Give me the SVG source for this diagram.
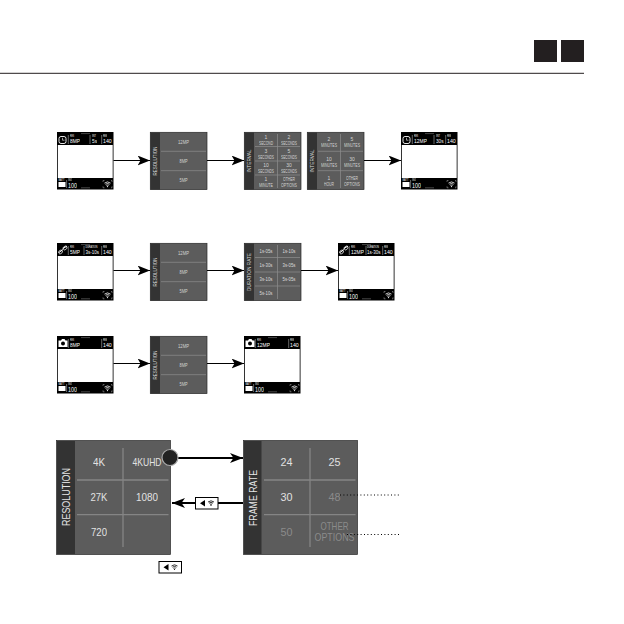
<svg xmlns="http://www.w3.org/2000/svg" width="624" height="624" viewBox="0 0 624 624">
<style>
text{font-family:"Liberation Sans",Arial,sans-serif;opacity:.99}
.m{fill:#5c5c5c;stroke:#2a2a2a;stroke-width:.7}
.s{fill:#333}
.g{stroke:#8e8e8e;stroke-width:.7;fill:none}
.gb{stroke:#858585;stroke-width:1.3;fill:none}
.t{fill:#d4d4d4;text-anchor:middle;font-size:5.2px}
.c{fill:#d4d4d4;text-anchor:middle;font-size:5px}
.d{fill:#dcdcdc;text-anchor:middle;font-size:5.6px}
.v{fill:#dcdcdc;text-anchor:middle;font-size:5.2px}
.vb{fill:#e4e4e4;text-anchor:middle;font-size:11.5px}
.vd{fill:#8c8c8c;text-anchor:middle;font-size:11.5px}
.bs{fill:#e8e8e8;text-anchor:middle;font-size:11.3px}
.l{fill:#fff;font-size:2.6px}
.n{fill:#fff;font-size:6.2px}
.n3{fill:#fff;font-size:5.2px}
.n2{fill:#fff;font-size:7.2px}
.a{stroke:#000;stroke-width:1.1;fill:none;marker-end:url(#h)}
.ab{stroke:#000;stroke-width:2;fill:none;marker-end:url(#hb)}
.dot{stroke:#000;stroke-width:1;stroke-dasharray:1 2.4;fill:none}
</style>
<defs>
<marker id="h" markerUnits="userSpaceOnUse" markerWidth="14" markerHeight="11" refX="12.500" refY="5" orient="auto"><path d="M0,0L12.500,5L0,10L3,5z"/></marker>
<marker id="hb" markerUnits="userSpaceOnUse" markerWidth="14" markerHeight="11" refX="13" refY="5" orient="auto"><path d="M0,0L13,5L0,10L3.500,5z"/></marker>
<g id="wifi"><path d="M0,1.800Q3,-.6 6,1.800M1,3Q3,1.400 5,3M2,4.200Q3,3.400 4,4.200" fill="none" stroke="currentColor" stroke-width=".8"/><circle cx="3" cy="5.300" r=".6" fill="currentColor"/></g>
<g id="key"><rect x=".5" y=".5" width="22.500" height="11.500" fill="#fff" stroke="#000"/><path d="M5,6.300L10,3V9.600z"/><use href="#wifi" x="13" y="3.200" color="#000"/></g>
<g id="screen">
<rect width="56.500" height="57.500" fill="#000"/>
<path d="M11.300,3V12" stroke="#fff" stroke-width=".4"/>
<rect x=".8" y="13" width="54.900" height="33" fill="#fff"/>
<rect x="1.500" y="50" width="7" height="5" fill="#fff"/>
<path d="M9.600,48V56" stroke="#fff" stroke-width=".4"/>
<path d="M24,1.600H33M24,55.800H33" stroke="#777" stroke-width=".6"/>
<path d="M47.500,48.500h-1.500v1.500M54,48.500h1v1.500M47.500,55.800h-1.500v-1.500M54,55.800h1v-1.500" stroke="#fff" stroke-width=".35" fill="none"/>
<use href="#wifi" x="47.500" y="49.300" color="#fff"/>
<text class="l" x="1.500" y="49" textLength="6" lengthAdjust="spacingAndGlyphs">BATT</text><text class="l" x="11" y="49" textLength="4" lengthAdjust="spacingAndGlyphs">ISO</text>
<text class="n2" x="11" y="55.500" textLength="9" lengthAdjust="spacingAndGlyphs">100</text>
</g>
<g id="clock"><rect x="2" y="4.500" width="7" height="7" rx="2" fill="none" stroke="#fff" stroke-width=".9"/><path d="M5.500,5.800V8.200H7.500" fill="none" stroke="#fff" stroke-width=".6"/></g>
<g id="link"><path d="M2,9.500L6,6.500M6,5.500L10,3" stroke="#fff" stroke-width="1" fill="none"/><rect x="1.500" y="7.500" width="4" height="3" rx="1.200" fill="none" stroke="#fff" stroke-width=".7" transform="rotate(-35 3.500 9)"/><rect x="6" y="3.500" width="4" height="3" rx="1.200" fill="none" stroke="#fff" stroke-width=".7" transform="rotate(-35 8 5)"/></g>
<g id="camera"><path d="M1.500,4.500H4L5,3H7.500L8.500,4.500H10.500V11H1.500z" fill="#fff"/><circle cx="6" cy="7.600" r="2" fill="#000"/></g>
<g id="res">
<rect class="m" x=".3" y=".3" width="56.700" height="57.300"/>
<rect class="s" x=".5" y=".5" width="9.500" height="57"/>
<path class="g" d="M11,19.300H56M11,38.700H56"/>
<text class="t" x="33.500" y="11.500" textLength="11" lengthAdjust="spacingAndGlyphs">12MP</text><text class="t" x="33.500" y="30.500" textLength="8" lengthAdjust="spacingAndGlyphs">8MP</text><text class="t" x="33.500" y="49.500" textLength="8" lengthAdjust="spacingAndGlyphs">5MP</text>
<text class="d" transform="translate(7 29) rotate(-90)" textLength="29" lengthAdjust="spacingAndGlyphs">RESOLUTION</text>
</g>
</defs>

<g id="header">
<rect x="534" y="40" width="23" height="22" fill="#231f20"/>
<rect x="561" y="40" width="23" height="22" fill="#231f20"/>
<path d="M0,73.300H584" stroke="#231f20" stroke-width="1"/>
</g>

<g id="s1" transform="translate(57 132)"><use href="#screen"/><use href="#clock"/>
<text class="l" x="13" y="5" textLength="4" lengthAdjust="spacingAndGlyphs">RES</text><text class="n" x="13" y="11" textLength="10" lengthAdjust="spacingAndGlyphs">8MP</text>
<path d="M33,3V12M44.700,3V12" stroke="#fff" stroke-width=".4"/>
<text class="l" x="35" y="5" textLength="4" lengthAdjust="spacingAndGlyphs">INT</text><text class="n" x="35" y="11" textLength="5" lengthAdjust="spacingAndGlyphs">5s</text>
<text class="l" x="46" y="5" textLength="4" lengthAdjust="spacingAndGlyphs">REM</text><text class="n" x="46" y="11" textLength="8.700" lengthAdjust="spacingAndGlyphs">140</text></g>
<use id="m1" href="#res" transform="translate(150 132)"/>
<g id="iv1" transform="translate(244 132)">
<rect class="m" x=".3" y=".3" width="56.700" height="57.300"/><rect class="s" x=".5" y=".5" width="9.500" height="57"/>
<path class="g" d="M33.500,2V56M11,14.500H56M11,29H56M11,43H56"/>
<text class="d" transform="translate(7 29) rotate(-90)" textLength="23" lengthAdjust="spacingAndGlyphs">INTERVAL</text>
<text class="c" x="22" y="7">1</text><text class="c" x="22" y="12.500" textLength="14" lengthAdjust="spacingAndGlyphs">SECOND</text>
<text class="c" x="45" y="7">2</text><text class="c" x="45" y="12.500" textLength="16" lengthAdjust="spacingAndGlyphs">SECONDS</text>
<text class="c" x="22" y="21">3</text><text class="c" x="22" y="26.500" textLength="16" lengthAdjust="spacingAndGlyphs">SECONDS</text>
<text class="c" x="45" y="21">5</text><text class="c" x="45" y="26.500" textLength="16" lengthAdjust="spacingAndGlyphs">SECONDS</text>
<text class="c" x="22" y="35">10</text><text class="c" x="22" y="40.500" textLength="16" lengthAdjust="spacingAndGlyphs">SECONDS</text>
<text class="c" x="45" y="35">30</text><text class="c" x="45" y="40.500" textLength="16" lengthAdjust="spacingAndGlyphs">SECONDS</text>
<text class="c" x="22" y="49">1</text><text class="c" x="22" y="54.500" textLength="14" lengthAdjust="spacingAndGlyphs">MINUTE</text>
<text class="c" x="45" y="49" textLength="12" lengthAdjust="spacingAndGlyphs">OTHER</text><text class="c" x="45" y="54.500" textLength="16" lengthAdjust="spacingAndGlyphs">OPTIONS</text>
</g>
<g id="iv2" transform="translate(307 132)">
<rect class="m" x=".3" y=".3" width="56.700" height="57.300"/><rect class="s" x=".5" y=".5" width="9.500" height="57"/>
<path class="g" d="M33.500,2V56M11,19.300H56M11,38.700H56"/>
<text class="d" transform="translate(7 29) rotate(-90)" textLength="23" lengthAdjust="spacingAndGlyphs">INTERVAL</text>
<text class="c" x="22" y="9">2</text><text class="c" x="22" y="14.500" textLength="16" lengthAdjust="spacingAndGlyphs">MINUTES</text>
<text class="c" x="45" y="9">5</text><text class="c" x="45" y="14.500" textLength="16" lengthAdjust="spacingAndGlyphs">MINUTES</text>
<text class="c" x="22" y="29">10</text><text class="c" x="22" y="34.500" textLength="16" lengthAdjust="spacingAndGlyphs">MINUTES</text>
<text class="c" x="45" y="29">30</text><text class="c" x="45" y="34.500" textLength="16" lengthAdjust="spacingAndGlyphs">MINUTES</text>
<text class="c" x="22" y="48">1</text><text class="c" x="22" y="53.500" textLength="10" lengthAdjust="spacingAndGlyphs">HOUR</text>
<text class="c" x="45" y="48" textLength="12" lengthAdjust="spacingAndGlyphs">OTHER</text><text class="c" x="45" y="53.500" textLength="16" lengthAdjust="spacingAndGlyphs">OPTIONS</text>
</g>
<g id="s2" transform="translate(401 132)"><use href="#screen"/><use href="#clock"/>
<text class="l" x="13" y="5" textLength="4" lengthAdjust="spacingAndGlyphs">RES</text><text class="n" x="13" y="11" textLength="13" lengthAdjust="spacingAndGlyphs">12MP</text>
<path d="M33,3V12M44.700,3V12" stroke="#fff" stroke-width=".4"/>
<text class="l" x="35" y="5" textLength="4" lengthAdjust="spacingAndGlyphs">INT</text><text class="n" x="35" y="11" textLength="7.500" lengthAdjust="spacingAndGlyphs">30s</text>
<text class="l" x="46" y="5" textLength="4" lengthAdjust="spacingAndGlyphs">REM</text><text class="n" x="46" y="11" textLength="8.700" lengthAdjust="spacingAndGlyphs">140</text></g>

<g id="s3" transform="translate(57 243)"><use href="#screen"/><use href="#link"/>
<text class="l" x="13" y="5" textLength="4" lengthAdjust="spacingAndGlyphs">RES</text><text class="n" x="13" y="11" textLength="10" lengthAdjust="spacingAndGlyphs">5MP</text>
<path d="M27,3V12M44.700,3V12" stroke="#fff" stroke-width=".4"/>
<text class="l" x="28.500" y="5" textLength="12" lengthAdjust="spacingAndGlyphs">DURATION</text><text class="n3" x="28.500" y="11" textLength="13.500" lengthAdjust="spacingAndGlyphs">3s-10s</text>
<text class="l" x="46" y="5" textLength="4" lengthAdjust="spacingAndGlyphs">REM</text><text class="n" x="46" y="11" textLength="8.700" lengthAdjust="spacingAndGlyphs">140</text></g>
<use id="m2" href="#res" transform="translate(150 243)"/>
<g id="dr" transform="translate(244 243)">
<rect class="m" x=".3" y=".3" width="56.700" height="57.300"/><rect class="s" x=".5" y=".5" width="9.500" height="57"/>
<path class="g" d="M33.500,2V56M11,14.500H56M11,29H56M11,43H56"/>
<text class="d" style="font-size:5px" transform="translate(7 29) rotate(-90)" textLength="38" lengthAdjust="spacingAndGlyphs">DURATION RATE</text>
<text class="v" x="22" y="9.500" textLength="13" lengthAdjust="spacingAndGlyphs">1s-05s</text><text class="v" x="45" y="9.500" textLength="13" lengthAdjust="spacingAndGlyphs">1s-10s</text>
<text class="v" x="22" y="23.500" textLength="13" lengthAdjust="spacingAndGlyphs">1s-30s</text><text class="v" x="45" y="23.500" textLength="13" lengthAdjust="spacingAndGlyphs">3s-05s</text>
<text class="v" x="22" y="37.500" textLength="13" lengthAdjust="spacingAndGlyphs">3s-10s</text><text class="v" x="45" y="37.500" textLength="13" lengthAdjust="spacingAndGlyphs">5s-05s</text>
<text class="v" x="22" y="52" textLength="13" lengthAdjust="spacingAndGlyphs">5s-10s</text>
</g>
<g id="s4" transform="translate(338 243)"><use href="#screen"/><use href="#link"/>
<text class="l" x="13" y="5" textLength="4" lengthAdjust="spacingAndGlyphs">RES</text><text class="n" x="13" y="11" textLength="13" lengthAdjust="spacingAndGlyphs">12MP</text>
<path d="M28,3V12M44.700,3V12" stroke="#fff" stroke-width=".4"/>
<text class="l" x="29" y="5" textLength="12" lengthAdjust="spacingAndGlyphs">DURATION</text><text class="n3" x="29" y="11" textLength="13.500" lengthAdjust="spacingAndGlyphs">1s-30s</text>
<text class="l" x="46" y="5" textLength="4" lengthAdjust="spacingAndGlyphs">REM</text><text class="n" x="46" y="11" textLength="8.700" lengthAdjust="spacingAndGlyphs">140</text></g>

<g id="s5" transform="translate(57 336)"><use href="#screen"/><use href="#camera"/>
<text class="l" x="13" y="5" textLength="4" lengthAdjust="spacingAndGlyphs">RES</text><text class="n" x="13" y="11" textLength="10" lengthAdjust="spacingAndGlyphs">8MP</text>
<path d="M44.700,3V12" stroke="#fff" stroke-width=".4"/>
<text class="l" x="46" y="5" textLength="4" lengthAdjust="spacingAndGlyphs">REM</text><text class="n" x="46" y="11" textLength="8.700" lengthAdjust="spacingAndGlyphs">140</text></g>
<use id="m3" href="#res" transform="translate(150 336)"/>
<g id="s6" transform="translate(244 336)"><use href="#screen"/><use href="#camera"/>
<text class="l" x="13" y="5" textLength="4" lengthAdjust="spacingAndGlyphs">RES</text><text class="n" x="13" y="11" textLength="13" lengthAdjust="spacingAndGlyphs">12MP</text>
<path d="M44.700,3V12" stroke="#fff" stroke-width=".4"/>
<text class="l" x="46" y="5" textLength="4" lengthAdjust="spacingAndGlyphs">REM</text><text class="n" x="46" y="11" textLength="8.700" lengthAdjust="spacingAndGlyphs">140</text></g>

<g id="bigres">
<rect class="m" x="56.500" y="440.500" width="114" height="114"/>
<rect class="s" x="57" y="441" width="18" height="113"/>
<path class="gb" d="M123,448V547M77,480H168.500M77,514.700H168.500"/>
<text class="vb" x="99" y="466" textLength="12" lengthAdjust="spacingAndGlyphs">4K</text><text class="vb" x="147" y="466" textLength="29" lengthAdjust="spacingAndGlyphs">4KUHD</text>
<text class="vb" x="99" y="501" textLength="17" lengthAdjust="spacingAndGlyphs">27K</text><text class="vb" x="147" y="501" textLength="22" lengthAdjust="spacingAndGlyphs">1080</text>
<text class="vb" x="99" y="536" textLength="16" lengthAdjust="spacingAndGlyphs">720</text>
<text class="bs" transform="translate(70 497) rotate(-90)" textLength="58" lengthAdjust="spacingAndGlyphs">RESOLUTION</text>
</g>
<g id="bigframe">
<rect class="m" x="243.500" y="440.500" width="114" height="114"/>
<rect class="s" x="244" y="441" width="17.500" height="113"/>
<path class="gb" d="M310,448V547M264,480H355.500M264,514.700H355.500"/>
<text class="vb" x="286.500" y="466" textLength="12" lengthAdjust="spacingAndGlyphs">24</text><text class="vb" x="334.500" y="466" textLength="12" lengthAdjust="spacingAndGlyphs">25</text>
<text class="vb" x="286.500" y="501" textLength="12" lengthAdjust="spacingAndGlyphs">30</text><text class="vd" x="334.500" y="501" textLength="12" lengthAdjust="spacingAndGlyphs">48</text>
<text class="vd" x="286.500" y="536" textLength="12" lengthAdjust="spacingAndGlyphs">50</text>
<text class="vd" x="334.500" y="530" textLength="28" lengthAdjust="spacingAndGlyphs">OTHER</text><text class="vd" x="334.500" y="541" textLength="40" lengthAdjust="spacingAndGlyphs">OPTIONS</text>
<text class="bs" transform="translate(257 498) rotate(-90)" textLength="56" lengthAdjust="spacingAndGlyphs">FRAME RATE</text>
</g>
<g id="connectors">
<path class="a" d="M113.500,160.500H150"/><path class="a" d="M207,160.500H244"/><path class="a" d="M364,160.500H401"/>
<path class="a" d="M113.500,270.500H150"/><path class="a" d="M207,270.500H244"/><path class="a" d="M301,270.500H338"/>
<path class="a" d="M113.500,363.500H150"/><path class="a" d="M207,363.500H244"/>
<path class="ab" d="M178,458H243"/>
<path class="ab" d="M243,503H172"/>
<path class="dot" d="M340,495H399"/>
<path class="dot" d="M347,534.500H399"/>
</g>
<g id="button"><circle cx="170" cy="457.500" r="8" fill="#222" stroke="#aaa" stroke-width="1.200"/></g>
<use id="key1" href="#key" x="195" y="497"/>
<use id="key2" href="#key" x="158.500" y="561"/>
</svg>
